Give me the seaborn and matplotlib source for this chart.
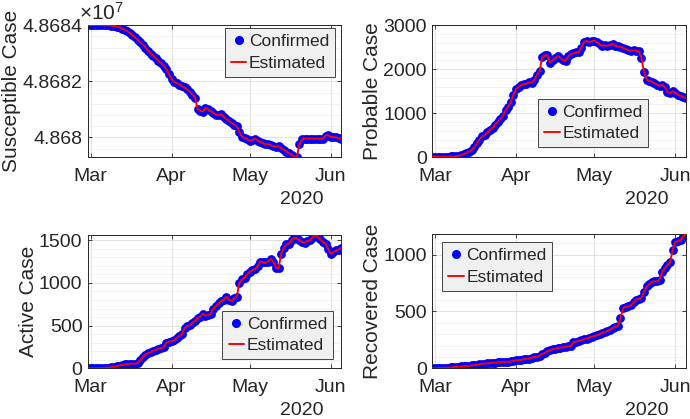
import matplotlib
matplotlib.use('Agg')
import matplotlib.pyplot as plt
import matplotlib.dates as mdates
from matplotlib.ticker import MultipleLocator, FuncFormatter
from matplotlib.lines import Line2D
import numpy as np
import pandas as pd
import seaborn as sns

DATES = pd.date_range('2020-02-29', periods=98, freq='D')

SUSCEPTIBLE = [
    48684000, 48684000, 48684000, 48684000, 48684000, 48684000, 48684000, 48683995, 48683990, 48683985,
    48683970, 48683950, 48683920, 48683880, 48683840, 48683790, 48683720, 48683640, 48683560, 48683480,
    48683400, 48683310, 48683200, 48683090, 48682990, 48682910, 48682820, 48682720, 48682640, 48682560,
    48682440, 48682250, 48682080, 48681990, 48681930, 48681880, 48681830, 48681780, 48681710, 48681630,
    48681530, 48681420, 48681000, 48680950, 48680920, 48681060, 48681000, 48680940, 48680880, 48680810,
    48680790, 48680830, 48680740, 48680660, 48680590, 48680520, 48680460, 48680400, 48680200, 48680020,
    48679980, 48679940, 48679890, 48679920, 48679960, 48679890, 48679840, 48679800, 48679750, 48679770,
    48679720, 48679690, 48679670, 48679690, 48679620, 48679560, 48679500, 48679440, 48679380, 48679320,
    48679300, 48679750, 48679940, 48679960, 48679950, 48679960, 48679960, 48679950, 48679960, 48679940,
    48679960, 48680070, 48680080, 48680010, 48680020, 48680000, 48679980, 48679960,
]

PROBABLE = [
    10, 10, 10, 10, 10, 10, 12, 15, 18, 20,
    30, 45, 70, 100, 125, 160, 220, 310, 400, 470,
    500, 560, 620, 660, 740, 800, 870, 940, 1060, 1150,
    1250, 1420, 1540, 1600, 1640, 1660, 1670, 1700, 1690, 1760,
    1870, 1950, 2270, 2310, 2320, 2150, 2200, 2250, 2300, 2250,
    2200, 2190, 2290, 2340, 2360, 2380, 2390, 2490, 2620, 2640,
    2620, 2630, 2650, 2610, 2560, 2530, 2540, 2530, 2550, 2580,
    2530, 2520, 2510, 2480, 2460, 2430, 2420, 2430, 2420, 2410,
    2260, 1940, 1760, 1730, 1710, 1680, 1650, 1620, 1640, 1600,
    1480, 1450, 1500, 1460, 1420, 1400, 1360, 1350,
]

ACTIVE = [
    0, 0, 0, 1, 2, 3, 5, 6, 8, 12,
    18, 25, 32, 40, 45, 50, 52, 55, 55, 60,
    95, 130, 160, 178, 190, 205, 215, 225, 235, 245,
    300, 310, 315, 330, 355, 380, 400, 470, 495, 505,
    530, 555, 590, 600, 640, 615, 625, 640, 700, 730,
    760, 790, 800, 840, 800, 790, 820, 840, 1000, 1040,
    1060, 1100, 1130, 1150, 1160, 1200, 1250, 1240, 1240, 1250,
    1280, 1250, 1180, 1170, 1340, 1410, 1450, 1460, 1500, 1530,
    1520, 1500, 1480, 1470, 1490, 1500, 1530, 1560, 1540, 1510,
    1480, 1460, 1400, 1340, 1360, 1380, 1390, 1410,
]

RECOVERED = [
    0, 1, 2, 3, 4, 5, 6, 8, 10, 12,
    14, 16, 18, 20, 22, 25, 28, 31, 35, 40,
    42, 44, 46, 48, 50, 52, 54, 56, 57, 58,
    60, 64, 70, 72, 73, 80, 84, 86, 95, 100,
    103, 110, 125, 135, 150, 160, 167, 172, 178, 183,
    185, 188, 192, 198, 230, 235, 240, 248, 255, 262,
    270, 278, 284, 292, 300, 312, 320, 328, 340, 355,
    365, 375, 440, 530, 540, 545, 555, 580, 605, 612,
    620, 670, 720, 740, 760, 765, 765, 780, 850, 880,
    910, 935, 1040, 1110, 1120, 1130, 1160, 1180,
]

DARK = '#262626'

sns.set_style('ticks')
plt.rcParams['font.family'] = ['Liberation Sans', 'DejaVu Sans']
plt.rcParams['mathtext.fontset'] = 'custom'
plt.rcParams['mathtext.rm'] = 'Liberation Sans'
plt.rcParams['text.color'] = DARK
plt.rcParams['axes.labelcolor'] = DARK
plt.rcParams['xtick.color'] = DARK
plt.rcParams['ytick.color'] = DARK

FS = 14
LEG_FS = 12.5


def _panel(ax, values, ylabel, major, minor, ylim, legend_kw):
    df = pd.DataFrame({'date': DATES, 'value': values})

    # Confirmed dots and estimated line
    sns.scatterplot(data=df, x='date', y='value', ax=ax, color='blue',
                    s=40, linewidth=0, zorder=2, legend=False)
    sns.lineplot(data=df, x='date', y='value', ax=ax, color='red',
                 linewidth=1.4, zorder=3, legend=False)

    ax.set_xlim(DATES[0], DATES[-1])
    ax.set_ylim(*ylim)

    ax.xaxis.set_major_locator(mdates.MonthLocator())
    ax.xaxis.set_major_formatter(mdates.DateFormatter('%b'))
    ax.yaxis.set_major_locator(MultipleLocator(major))
    ax.yaxis.set_minor_locator(MultipleLocator(minor))

    ax.grid(True, which='major', color='#dedede', linewidth=0.6)
    ax.grid(True, which='minor', axis='y', color='#ececec', linewidth=0.5)
    ax.set_axisbelow(True)

    ax.tick_params(which='both', direction='in', top=True, right=True,
                   labelsize=FS, color=DARK, width=0.6)
    ax.tick_params(which='major', length=3)
    ax.tick_params(which='minor', length=0)
    ax.tick_params(axis='x', pad=8)
    ax.tick_params(axis='y', pad=4)
    for s in ax.spines.values():
        s.set_color(DARK)
        s.set_linewidth(0.7)

    ax.set_xlabel('')
    ax.set_ylabel(ylabel, fontsize=15, labelpad=1)

    # Year label under the axis
    ax.annotate('2020', xy=(0.846, 0), xycoords='axes fraction',
                xytext=(0, -30.5), textcoords='offset points',
                ha='center', va='center', fontsize=FS)

    handles = [
        Line2D([], [], color='blue', marker='o', linestyle='none', markersize=5.5),
        Line2D([], [], color='red', linewidth=1.4),
    ]
    leg = ax.legend(handles, ['Confirmed', 'Estimated'], fontsize=LEG_FS,
                    fancybox=False, framealpha=1, handlelength=0.9,
                    handletextpad=0.15, borderpad=0.35, labelspacing=0.35,
                    borderaxespad=0, **legend_kw)
    leg.get_frame().set_facecolor('#f0f0f0')
    leg.get_frame().set_edgecolor(DARK)
    leg.get_frame().set_linewidth(0.6)


fig = plt.figure(figsize=(6.9, 4.19), dpi=100)
ax1 = fig.add_axes([0.1275, 0.625, 0.367, 0.315])
ax2 = fig.add_axes([0.6268, 0.625, 0.367, 0.315])
ax3 = fig.add_axes([0.1275, 0.121, 0.367, 0.318])
ax4 = fig.add_axes([0.6268, 0.121, 0.367, 0.320])

_panel(ax1, SUSCEPTIBLE, 'Susceptible Case', 2000, 400,
       (min(SUSCEPTIBLE), max(SUSCEPTIBLE)),
       dict(loc='upper right', bbox_to_anchor=(0.977, 0.977)))
ax1.yaxis.set_major_formatter(FuncFormatter(lambda v, _: f'{v / 1e7:g}'))
ax1.text(-0.035, 1.01, r'$\times\mathregular{10^{7}}$', transform=ax1.transAxes,
         ha='left', va='bottom', fontsize=FS + 1)

_panel(ax2, PROBABLE, 'Probable Case', 1000, 200, (0, 3000),
       dict(loc='lower left', bbox_to_anchor=(0.416, 0.076)))

_panel(ax3, ACTIVE, 'Active Case', 500, 100, (0, max(ACTIVE)),
       dict(loc='lower right', bbox_to_anchor=(0.968, 0.067)))

_panel(ax4, RECOVERED, 'Recovered Case', 500, 100, (0, max(RECOVERED)),
       dict(loc='upper left', bbox_to_anchor=(0.037, 0.94)))

fig.savefig('out.png', dpi=100)
plt.close(fig)
